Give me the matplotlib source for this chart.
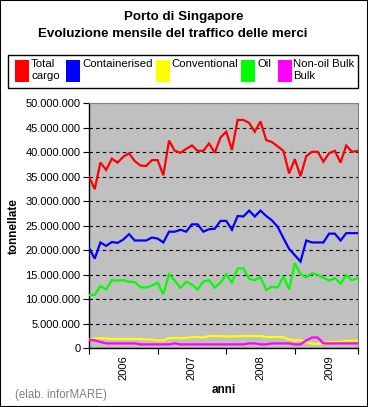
import matplotlib
matplotlib.use("Agg")
import matplotlib.pyplot as plt
from matplotlib.patches import Rectangle
from matplotlib.ticker import FuncFormatter, FixedLocator
import numpy as np

plt.rcParams['font.family'] = ['Liberation Sans', 'DejaVu Sans']

# Monthly values in millions of tonnes (Jan 2006 .. Dec 2009)
total_cargo = [35.0, 32.5, 37.9, 36.4, 38.7, 37.9, 39.1, 39.8, 38.2, 37.3, 37.2, 38.4,
               38.4, 35.3, 42.4, 40.3, 39.9, 40.7, 41.4, 40.3, 40.3, 41.8, 39.9, 43.0,
               44.2, 40.5, 46.6, 46.6, 46.0, 44.2, 46.3, 42.5, 42.1, 41.2, 40.3, 35.7,
               38.6, 35.1, 39.2, 40.1, 40.1, 38.1, 39.8, 40.3, 37.9, 41.4, 40.1, 40.3]
containerised = [20.5, 18.3, 21.6, 20.9, 21.7, 21.5, 22.2, 23.3, 22.0, 22.0, 22.0, 22.6,
                 22.4, 21.6, 23.8, 23.8, 24.2, 23.8, 25.3, 25.3, 23.8, 24.3, 24.4, 26.0,
                 26.0, 24.2, 27.0, 26.9, 28.1, 26.9, 28.1, 27.0, 26.1, 24.8, 22.5, 20.3,
                 19.0, 17.7, 22.0, 21.6, 21.6, 21.6, 23.4, 23.4, 22.0, 23.5, 23.5, 23.5]
conventional = [1.8, 2.0, 2.1, 2.0, 1.9, 1.9, 1.9, 1.9, 1.9, 1.9, 1.8, 1.75,
                1.6, 1.6, 2.1, 2.1, 2.1, 2.1, 2.3, 2.3, 2.2, 2.5, 2.5, 2.5,
                2.4, 2.4, 2.5, 2.5, 2.5, 2.5, 2.5, 2.3, 2.3, 2.3, 2.25, 1.8,
                1.6, 1.7, 1.3, 0.95, 0.95, 0.95, 1.3, 1.3, 1.3, 1.55, 1.55, 1.55]
oil = [10.9, 10.9, 12.7, 12.0, 13.9, 13.8, 13.9, 13.6, 13.5, 12.5, 12.4, 12.8,
       13.4, 11.0, 15.1, 13.8, 12.3, 13.6, 13.0, 12.0, 13.6, 13.9, 12.4, 13.4,
       15.1, 13.4, 16.3, 16.3, 14.2, 13.9, 14.5, 11.9, 12.6, 12.4, 14.7, 12.0,
       17.4, 15.1, 14.5, 15.3, 15.0, 14.4, 13.8, 14.3, 13.2, 14.9, 13.9, 14.3]
non_oil_bulk = [1.8, 1.6, 1.3, 1.0, 1.0, 1.0, 1.0, 1.0, 1.0, 0.8, 0.8, 0.8,
                0.8, 0.8, 0.8, 1.0, 0.8, 0.8, 0.8, 0.8, 0.8, 0.8, 0.8, 0.8,
                0.8, 0.8, 0.8, 0.8, 1.0, 1.0, 0.8, 0.8, 1.0, 1.0, 1.0, 1.0,
                0.8, 0.8, 1.6, 2.2, 2.2, 1.0, 1.0, 1.0, 1.0, 1.0, 1.0, 1.0]

series_names = ['Total\ncargo', 'Containerised', 'Conventional', 'Oil', 'Non-oil Bulk\nBulk']
series_colors = ['#FF0000', '#0000FF', '#FFFF00', '#00FF00', '#FF00FF']
year_labels = ['2006', '2007', '2008', '2009']

W, H = 368, 407
fig = plt.figure(figsize=(W / 100, H / 100), dpi=100)
fig.patch.set_facecolor('white')

ax = fig.add_axes([89 / W, 1 - 348.3 / H, (357.7 - 89) / W, (348.3 - 103.3) / H])
ax.set_facecolor('#C0C0C0')

x = np.arange(len(total_cargo))
all_series = [total_cargo, containerised, conventional, oil, non_oil_bulk]
for vals, col in zip(all_series, series_colors):
    ax.plot(x, np.array(vals) * 1e6, color=col, lw=1.6, solid_joinstyle='miter', zorder=3)

ax.set_xlim(0, len(total_cargo) - 1)
ax.set_ylim(0, 50e6)
ax.yaxis.set_major_locator(FixedLocator(np.arange(0, 50e6 + 1, 5e6)))
ax.yaxis.set_major_formatter(FuncFormatter(lambda v, p: f"{int(round(v)):,}".replace(',', '.')))
ax.grid(axis='y', color='black', linestyle=(0, (3, 3)), lw=0.8, zorder=1)
ax.set_axisbelow(True)

ax.set_xticks([0, 12, 24, 36, len(total_cargo) - 1])
ax.set_xticklabels([])
ax.set_xticks([6, 18, 30, 42], minor=True)
ax.set_xticklabels(year_labels, minor=True, rotation=90, fontsize=8)
ax.tick_params(axis='x', which='minor', length=0, pad=5)
ax.tick_params(axis='x', which='major', length=4, direction='out', color='black')
ax.tick_params(axis='y', length=4, direction='out', labelsize=8, pad=2)

for s in ['top', 'right']:
    ax.spines[s].set_color('#808080')
    ax.spines[s].set_linewidth(0.8)
for s in ['left', 'bottom']:
    ax.spines[s].set_color('black')
    ax.spines[s].set_linewidth(1.0)

ax.set_ylabel('tonnellate', fontsize=8.5, fontweight='bold', labelpad=4)
ax.set_xlabel('anni', fontsize=8.5, fontweight='bold', labelpad=3)

# Title
fig.text(184 / W, 1 - 17 / H, 'Porto di Singapore', ha='center', va='center',
         fontsize=9.6, fontweight='bold')
fig.text(173 / W, 1 - 34 / H, 'Evoluzione mensile del traffico delle merci',
         ha='center', va='center', fontsize=9.6, fontweight='bold')

# Legend box
fig.patches.append(Rectangle((8 / W, 1 - 88 / H), (358 - 8) / W, (88 - 55) / H,
                             transform=fig.transFigure, fill=False, edgecolor='black', lw=1))
sq_x = [15, 66, 156, 241, 278]
txt_x = [31, 82, 171, 257, 293]
for name, col, sx, tx in zip(series_names, series_colors, sq_x, txt_x):
    fig.patches.append(Rectangle((sx / W, 1 - 82 / H), 14 / W, 22 / H,
                                 transform=fig.transFigure, facecolor=col, edgecolor='none'))
    fig.text(tx / W, 1 - 59 / H, name, ha='left', va='top', fontsize=8.2, linespacing=1.2)

fig.text(15 / W, 1 - 395 / H, '(elab. inforMARE)', ha='left', va='center',
         fontsize=8.3, color='#808080')

# Figure border
fig.patches.append(Rectangle((0, 0), 1, 1, transform=fig.transFigure, fill=False,
                             edgecolor='black', lw=1.5))

fig.savefig('out.png', dpi=100)
